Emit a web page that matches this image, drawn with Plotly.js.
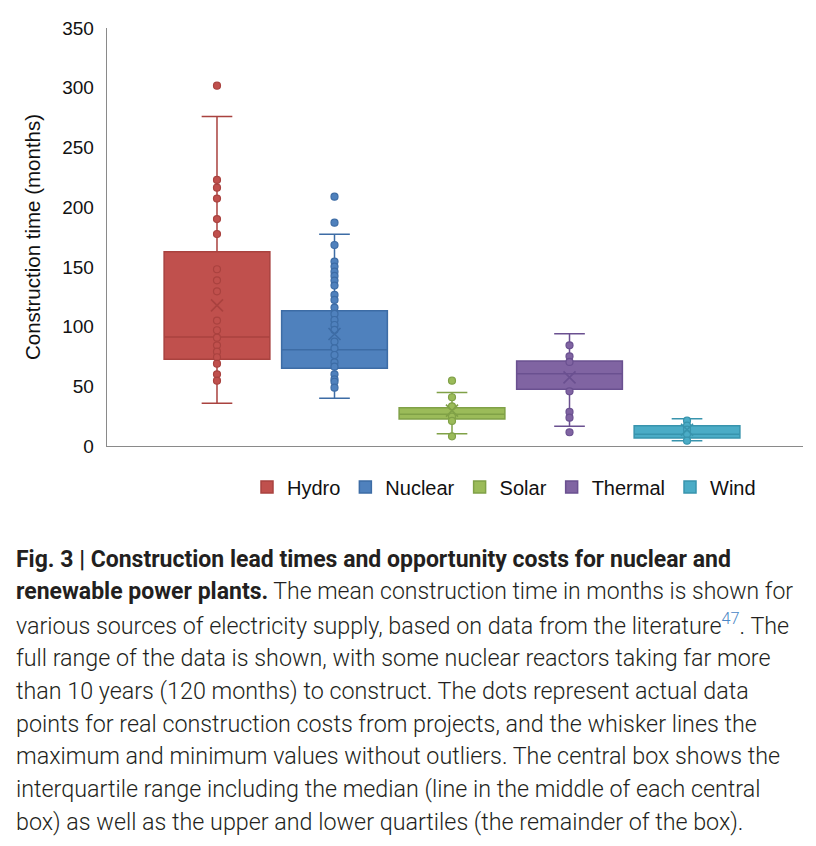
<!DOCTYPE html>
<html>
<head>
<meta charset="utf-8">
<script src="https://cdn.plot.ly/plotly-3.0.1.min.js"></script>
<style>html,body{margin:0;padding:0;background:#fff;}#chart{width:816px;height:846px;}</style>
</head>
<body>
<div id="chart"></div>
<script>
// ---- data (months) ----
const categories = ['Hydro', 'Nuclear', 'Solar', 'Thermal', 'Wind'];
const q1Values     = [72.6, 65.0, 22.6, 47.5, 6.6];
const medianValues = [91.3, 80.6, 26.5, 60.6, 9.9];
const q3Values     = [162.7, 113.3, 32.1, 71.2, 17.0];
const lowerWhisker = [35.7, 40.0, 10.3, 16.5, 4.5];
const upperWhisker = [276.0, 177.3, 44.9, 94.0, 22.9];
const meanValues   = [117.8, 93.8, 29.6, 57.5, 13.6];

const hydroPoints   = [301.7, 222.8, 216.3, 207.2, 190.0, 177.5, 148.0, 138.7, 129.5, 105.0, 96.9, 90.7, 84.3, 79.0, 74.3, 68.9, 60.0, 54.7];
const nuclearPoints = [208.8, 187.0, 168.3, 154.4, 150.2, 146.0, 142.4, 138.5, 134.3, 126.5, 122.3, 115.9, 110.6, 105.5, 101.3, 97.2, 87.4, 81.8, 76.2, 70.1, 66.4, 60.0, 55.8, 53.8, 48.8];
const solarPoints   = [54.7, 40.8, 33.2, 24.6, 21.0, 8.1];
const thermalPoints = [84.3, 75.1, 70.4, 45.8, 28.5, 23.7, 11.5];
const windPoints    = [21.2, 17.0, 13.7, 10.0, 4.5];
const pointSets = [hydroPoints, nuclearPoints, solarPoints, thermalPoints, windPoints];

const fillColors = ['#c0504d', '#4f81bd', '#9bbb59', '#8064a2', '#4bacc6'];
const lineColors = ['#a9423f', '#3d6ca5', '#80a147', '#6a5090', '#3894ad'];

const captionLines = [
  '<b>Fig. 3 | Construction lead times and opportunity costs for nuclear and</b>',
  '<b>renewable power plants.</b> The mean construction time in months is shown for',
  'various sources of electricity supply, based on data from the literature<sup><span style="color:#4a86c5">47</span></sup>. The',
  'full range of the data is shown, with some nuclear reactors taking far more',
  'than 10 years (120 months) to construct. The dots represent actual data',
  'points for real construction costs from projects, and the whisker lines the',
  'maximum and minimum values without outliers. The central box shows the',
  'interquartile range including the median (line in the middle of each central',
  'box) as well as the upper and lower quartiles (the remainder of the box).'
];

// ---- layout constants ----
const W = 816, H = 846;
const M = {l: 107, r: 13, t: 28, b: 400};
const plotH = H - M.t - M.b, plotW = W - M.l - M.r;
const pyFromPx = px => (H - M.b - px) / plotH;
const pxToPaperX = px => (px - M.l) / plotW;

const traces = [];
categories.forEach((c, i) => {
  traces.push({
    type: 'box', name: c, x: [c],
    q1: [q1Values[i]], median: [medianValues[i]], q3: [q3Values[i]],
    lowerfence: [lowerWhisker[i]], upperfence: [upperWhisker[i]],
    boxpoints: false, width: 0.9, whiskerwidth: 0.29,
    fillcolor: fillColors[i],
    line: {color: lineColors[i], width: 1.5},
    hoverinfo: 'y'
  });
});
categories.forEach((c, i) => {
  traces.push({
    type: 'scatter', mode: 'markers', showlegend: false,
    x: pointSets[i].map(() => c), y: pointSets[i],
    marker: {size: 7, color: fillColors[i], line: {color: lineColors[i], width: 1.2}},
    hoverinfo: 'y'
  });
});
traces.push({
  type: 'scatter', mode: 'markers', showlegend: false,
  x: categories, y: meanValues,
  marker: {symbol: 'x-thin-open', size: 12, color: lineColors, line: {color: lineColors, width: 1.6}},
  hoverinfo: 'y'
});

const annotations = captionLines.map((t, k) => ({
  xref: 'paper', yref: 'paper',
  x: pxToPaperX(14), y: pyFromPx(559 + k * 32.9),
  xanchor: 'left', yanchor: 'middle',
  text: t, showarrow: false, align: 'left',
  font: {family: 'Roboto, "Noto Sans", sans-serif', size: k < 2 ? 23 : 23.3, color: '#231f20', weight: 300}
}));

const layout = {
  width: W, height: H,
  margin: M,
  paper_bgcolor: '#fff', plot_bgcolor: '#fff',
  showlegend: true,
  boxmode: 'overlay',
  font: {family: '"Liberation Sans", Arial, sans-serif', size: 19, color: '#111'},
  xaxis: {
    type: 'category', categoryarray: categories, categoryorder: 'array',
    range: [-0.936, 4.987], showticklabels: false, ticks: '',
    showline: true, linecolor: '#8a8a8a', linewidth: 1.3,
    showgrid: false, zeroline: false, fixedrange: true
  },
  yaxis: {
    range: [0, 350], dtick: 50, tick0: 0, ticks: '',
    showline: true, linecolor: '#8a8a8a', linewidth: 1.3,
    showgrid: false, zeroline: false,
    tickfont: {size: 19, color: '#111'},
    ticklabelstandoff: 8,
    title: {text: 'Construction time (months)', font: {size: 20.5, color: '#111'}, standoff: 16},
    automargin: false
  },
  legend: {
    orientation: 'h', x: pxToPaperX(504), xanchor: 'center',
    y: pyFromPx(487), yanchor: 'middle',
    font: {size: 20, color: '#111'}, itemwidth: 30,
    bgcolor: 'rgba(0,0,0,0)'
  },
  annotations: annotations
};

Plotly.newPlot('chart', traces, layout, {displayModeBar: false, staticPlot: true});
</script>
</body>
</html>
